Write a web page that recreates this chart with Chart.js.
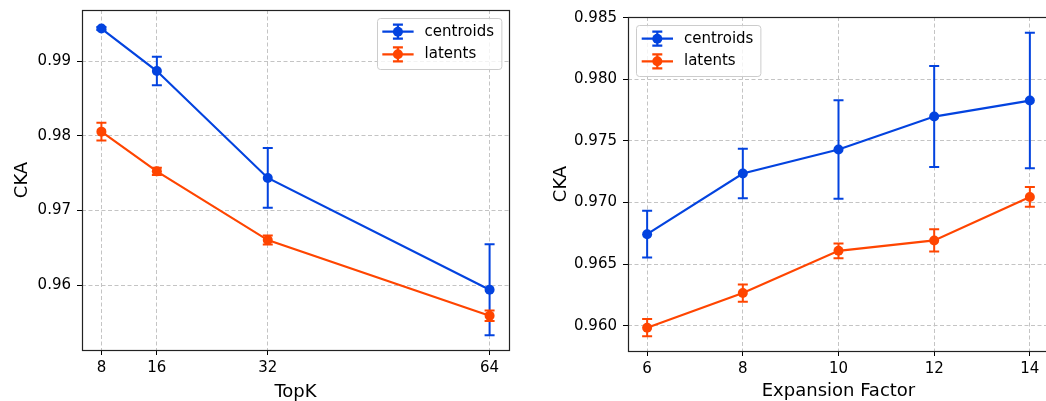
<!DOCTYPE html>
<html>
<head>
<meta charset="utf-8">
<script src="https://cdn.jsdelivr.net/npm/chart.js@4"></script>
<style>
html, body { margin: 0; padding: 0; background: #fff; overflow: hidden; }
#wrap { position: relative; width: 1046px; height: 401px; overflow: hidden; }
#left { position: absolute; left: 0; top: 0; }
#right { position: absolute; left: 530px; top: 0; }
</style>
</head>
<body>
<div id="wrap">
	<canvas id="left" width="520" height="401"></canvas>
	<canvas id="right" width="525" height="401"></canvas>
</div>
<script>
/* global Chart */

// Datos: TopK
const topK = [8, 16, 32, 64];
const topkCentroids = [0.99435, 0.98866, 0.97434, 0.95937];
const topkCentroidsErr = [0.0002, 0.0019, 0.0040, 0.0061];
const topkLatents = [0.98054, 0.97522, 0.96602, 0.95589];
const topkLatentsErr = [0.0012, 0.0005, 0.0006, 0.0007];
const topkYTicks = [0.96, 0.97, 0.98, 0.99];

// Datos: Expansion Factor
const expansion = [6, 8, 10, 12, 14];
const expCentroids = [0.96743, 0.97235, 0.97430, 0.97697, 0.97827];
const expCentroidsErr = [0.0019, 0.0020, 0.0040, 0.0041, 0.0055];
const expLatents = [0.95984, 0.96265, 0.96608, 0.96692, 0.97045];
const expLatentsErr = [0.0007, 0.0007, 0.0006, 0.0009, 0.0008];
const expYTicks = [0.960, 0.965, 0.970, 0.975, 0.980, 0.985];

const BLUE = '#0343df';
const ORANGE = '#ff4500';

Chart.defaults.font.family = '"DejaVu Sans", sans-serif';
Chart.defaults.color = '#000';

// barras de error
const errorBars = {
	id: 'errorBars',
	beforeDatasetsDraw(chart) {
		const { ctx, scales: { x, y } } = chart;
		chart.data.datasets.forEach((ds) => {
			ctx.save();
			ctx.strokeStyle = ds.borderColor;
			ctx.lineWidth = 2;
			ds.data.forEach((p, i) => {
				const e = ds.errors[i];
				const px = x.getPixelForValue(p.x);
				const top = y.getPixelForValue(p.y + e);
				const bot = y.getPixelForValue(p.y - e);
				ctx.beginPath();
				ctx.moveTo(px, top); ctx.lineTo(px, bot);
				ctx.moveTo(px - 5, top); ctx.lineTo(px + 5, top);
				ctx.moveTo(px - 5, bot); ctx.lineTo(px + 5, bot);
				ctx.stroke();
			});
			ctx.restore();
		});
	}
};

// marco y leyenda estilo matplotlib
const frameLegend = {
	id: 'frameLegend',
	afterDraw(chart, args, opts) {
		const { ctx, chartArea: a } = chart;
		ctx.save();
		ctx.strokeStyle = '#222';
		ctx.lineWidth = 1.2;
		ctx.strokeRect(Math.round(a.left) + 0.5, Math.round(a.top) + 0.5, Math.round(a.right - a.left), Math.round(a.bottom - a.top));

		ctx.font = '15px "DejaVu Sans"';
		const tw = Math.max(...chart.data.datasets.map(d => ctx.measureText(d.label).width));
		const w = 48 + tw + 7, h = 51;
		const bx = opts.side === 'right' ? a.right - 8 - w : a.left + 8;
		const by = a.top + 8;
		ctx.beginPath();
		ctx.roundRect(Math.round(bx) + 0.5, Math.round(by) + 0.5, w, h, 3);
		ctx.fillStyle = 'rgba(255,255,255,0.8)';
		ctx.fill();
		ctx.strokeStyle = '#cccccc';
		ctx.lineWidth = 1;
		ctx.stroke();

		chart.data.datasets.forEach((d, i) => {
			const cy = by + 13.7 + i * 22.6;
			const x0 = bx + 5.7, x1 = bx + 37, cx = bx + 21.3;
			ctx.strokeStyle = d.borderColor;
			ctx.lineWidth = 2.2;
			ctx.beginPath();
			ctx.moveTo(x0, cy); ctx.lineTo(x1, cy);
			ctx.moveTo(cx, cy - 7); ctx.lineTo(cx, cy + 7);
			ctx.moveTo(cx - 5, cy - 7); ctx.lineTo(cx + 5, cy - 7);
			ctx.moveTo(cx - 5, cy + 7); ctx.lineTo(cx + 5, cy + 7);
			ctx.stroke();
			ctx.fillStyle = d.borderColor;
			ctx.beginPath();
			ctx.arc(cx, cy, 5, 0, Math.PI * 2);
			ctx.fill();
			ctx.fillStyle = '#000';
			ctx.textBaseline = 'middle';
			ctx.fillText(d.label, bx + 48, cy);
		});
		ctx.restore();
	}
};

function series(label, xs, ys, errs, color) {
	return {
		label,
		data: xs.map((x, i) => ({ x, y: ys[i] })),
		errors: errs,
		borderColor: color,
		backgroundColor: color,
		borderWidth: 2.2,
		pointRadius: 5,
		pointHoverRadius: 5,
		pointBorderWidth: 0,
		tension: 0
	};
}

function axisGrid() {
	return { color: '#c4c4c4', lineWidth: 1, tickColor: '#000', tickLength: 5, tickWidth: 1, tickBorderDash: [] };
}

function buildChart(canvas, s) {
	return new Chart(canvas, {
		type: 'line',
		data: {
			datasets: [
				series('centroids', s.xs, s.cen, s.cenErr, BLUE),
				series('latents', s.xs, s.lat, s.latErr, ORANGE)
			]
		},
		options: {
			responsive: false,
			animation: false,
			layout: { padding: s.padding },
			plugins: {
				legend: { display: false },
				tooltip: { enabled: false },
				frameLegend: { side: s.legendSide }
			},
			scales: {
				x: {
					type: 'linear',
					min: s.xMin,
					max: s.xMax,
					afterBuildTicks: (sc) => { sc.ticks = s.xs.map(v => ({ value: v })); },
					afterFit: (sc) => { sc.height = s.xAxisH; sc.paddingLeft = 0; sc.paddingRight = 0; },
					ticks: { padding: 4, font: { size: 15 }, maxRotation: 0, autoSkip: false, callback: v => String(v) },
					grid: axisGrid(),
					border: { display: false, dash: [4, 2.5] },
					title: { display: true, text: s.xTitle, font: { size: 18, lineHeight: 1 }, padding: { top: 0, bottom: s.xTitlePad } }
				},
				y: {
					min: s.yMin,
					max: s.yMax,
					afterBuildTicks: (sc) => { sc.ticks = s.yTicks.map(v => ({ value: v })); },
					afterFit: (sc) => { sc.width = s.yAxisW; sc.paddingTop = 0; sc.paddingBottom = 0; },
					ticks: { padding: 6, font: { size: 15 }, autoSkip: false, callback: v => v.toFixed(s.dec) },
					grid: axisGrid(),
					border: { display: false, dash: [4, 2.5] },
					title: { display: true, text: 'CKA', font: { size: 18, lineHeight: 1 }, padding: { top: s.yTitlePad, bottom: 0 } }
				}
			}
		},
		plugins: [errorBars, frameLegend]
	});
}

buildChart(document.getElementById('left'), {
	xs: topK, cen: topkCentroids, cenErr: topkCentroidsErr, lat: topkLatents, latErr: topkLatentsErr,
	xMin: 5.2, xMax: 66.8, yMin: 0.9513, yMax: 0.99683, yTicks: topkYTicks, dec: 2,
	padding: { left: 0, right: 11, top: 10, bottom: 0 }, xAxisH: 51, yAxisW: 82,
	xTitle: 'TopK', xTitlePad: 0, yTitlePad: 13, legendSide: 'right'
});

buildChart(document.getElementById('right'), {
	xs: expansion, cen: expCentroids, cenErr: expCentroidsErr, lat: expLatents, latErr: expLatentsErr,
	xMin: 5.6, xMax: 14.4, yMin: 0.95795, yMax: 0.98505, yTicks: expYTicks, dec: 3,
	padding: { left: 0, right: 6, top: 17, bottom: 0 }, xAxisH: 50, yAxisW: 98,
	xTitle: 'Expansion Factor', xTitlePad: 1, yTitlePad: 22, legendSide: 'left'
});
</script>
</body>
</html>
